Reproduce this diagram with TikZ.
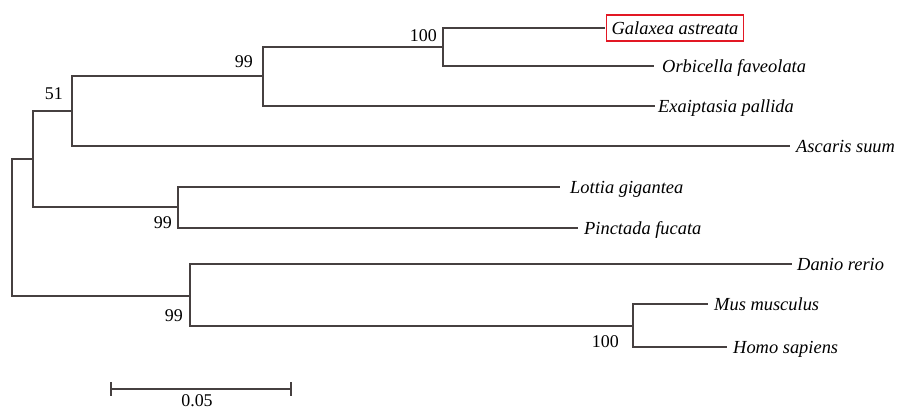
\documentclass[tikz,border=0pt]{standalone}
\usepackage{fontspec}
\setmainfont{Liberation Serif}
\definecolor{treeline}{RGB}{70,64,64}
\definecolor{boxred}{RGB}{226,24,36}
\tikzset{
  branch/.style={draw=treeline, line width=1.3bp},
  leaf/.style={anchor=west, inner xsep=6bp, inner ysep=0pt, text height=12bp, text depth=0pt,
    font=\fontsize{18.5}{20}\selectfont\itshape},
  boot/.style={inner sep=0pt, font=\fontsize{18}{20}\selectfont},
  redbox/.style={draw=boxred, line width=1.3bp, inner xsep=5bp, minimum height=26bp},
}
\begin{document}
\begin{tikzpicture}[x=1bp, y=-1bp]
\useasboundingbox (0,0) rectangle (898,409);
\clip (0,0) rectangle (898,409);
% internal nodes
\coordinate (root) at (12,228);
\coordinate (nA) at (33,159);
\coordinate (n51) at (72,111);
\coordinate (n99a) at (263,76);
\coordinate (n100a) at (443,47);
\coordinate (nL) at (178,207);
\coordinate (nD) at (190,296);
\coordinate (nM) at (633,326);
% leaves
\node[leaf, redbox] (gal) at (606,28) {Galaxea astreata};
\node[leaf, inner xsep=8bp] (orb) at (654,66) {Orbicella faveolata};
\node[leaf, inner xsep=3bp] (exa) at (655,106) {Exaiptasia pallida};
\node[leaf] (asc) at (790,146) {Ascaris suum};
\node[leaf, inner xsep=10bp] (lot) at (560,187) {Lottia gigantea};
\node[leaf] (pin) at (578,228) {Pinctada fucata};
\node[leaf, inner xsep=5bp] (dan) at (792,264) {Danio rerio};
\node[leaf] (mus) at (708,304) {Mus musculus};
\node[leaf] (hom) at (727,347) {Homo sapiens};
% branches
\draw[branch] (root) |- (nA);
\draw[branch] (root) |- (nD);
\draw[branch] (nA) |- (n51);
\draw[branch] (nA) |- (nL);
\draw[branch] (n51) |- (n99a);
\draw[branch] (n51) |- (asc.west);
\draw[branch] (n99a) |- (n100a);
\draw[branch] (n99a) |- (exa.west);
\draw[branch] (n100a) |- ([xshift=-0.6bp]gal.west);
\draw[branch] (n100a) |- (orb.west);
\draw[branch] (nL) |- (lot.west);
\draw[branch] (nL) |- (pin.west);
\draw[branch] (nD) |- (dan.west);
\draw[branch] (nD) |- (nM);
\draw[branch] (nM) |- (mus.west);
\draw[branch] (nM) |- (hom.west);
% bootstrap values
\node[boot, anchor=base east] (b100a) at ([xshift=-6bp, yshift=6bp]n100a) {100};
\node[boot, anchor=base east] (b99a) at ([xshift=-10bp, yshift=9bp]n99a) {99};
\node[boot, anchor=base east] (b51) at ([xshift=-9bp, yshift=12bp]n51) {51};
\node[boot, anchor=base east] (b99l) at ([xshift=-6bp, yshift=-21bp]nL) {99};
\node[boot, anchor=base east] (b99d) at ([xshift=-7bp, yshift=-25bp]nD) {99};
\node[boot, anchor=base east] (b100m) at ([xshift=-14bp, yshift=-21bp]nM) {100};
% scale bar
\coordinate (sbL) at (111,389);
\coordinate (sbR) at (291,389);
\draw[branch] (sbL) -- (sbR);
\draw[branch] ([yshift=7bp]sbL) -- ([yshift=-7bp]sbL);
\draw[branch] ([yshift=7bp]sbR) -- ([yshift=-7bp]sbR);
\node[boot, anchor=north] (sblab) at (197,394) {0.05};
\end{tikzpicture}
\end{document}
